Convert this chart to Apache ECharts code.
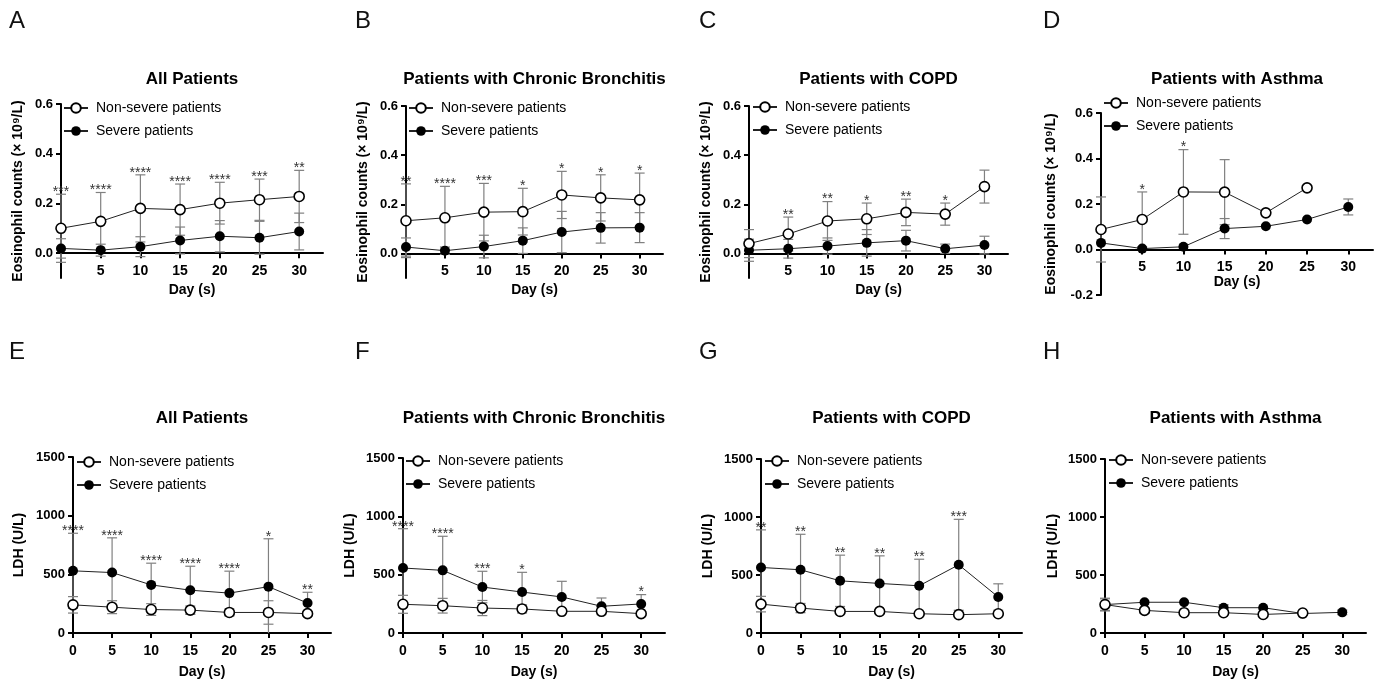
<!DOCTYPE html>
<html>
<head>
<meta charset="utf-8">
<script src="https://cdn.jsdelivr.net/npm/echarts@6/dist/echarts.min.js"></script>
<style>
  html, body { margin: 0; padding: 0; background: #fff; }
  #main { width: 1378px; height: 680px; }
</style>
</head>
<body>
<div id="main"></div>
<script>
// days on the x axis
var days = [0, 5, 10, 15, 20, 25, 30];

// Eosinophil counts (x10^9/L), mean and SD
var nsA = [0.100, 0.128, 0.180, 0.175, 0.201, 0.215, 0.228];
var nsA_sd = [0.137, 0.116, 0.135, 0.103, 0.084, 0.083, 0.105];
var svA = [0.019, 0.012, 0.026, 0.051, 0.068, 0.062, 0.087];
var svA_sd = [0.039, 0.024, 0.040, 0.054, 0.063, 0.066, 0.074];
var sigA = ['***', '****', '****', '****', '****', '***', '**'];

var nsB = [0.133, 0.145, 0.168, 0.170, 0.238, 0.226, 0.218];
var nsB_sd = [0.150, 0.128, 0.117, 0.095, 0.096, 0.094, 0.109];
var svB = [0.026, 0.011, 0.028, 0.052, 0.087, 0.104, 0.105];
var svB_sd = [0.037, 0.015, 0.046, 0.052, 0.084, 0.062, 0.061];
var sigB = ['**', '****', '***', '*', '*', '*', '*'];

var nsC = [0.040, 0.079, 0.132, 0.141, 0.167, 0.160, 0.272];
var nsC_sd = [0.057, 0.069, 0.079, 0.064, 0.054, 0.045, 0.067];
var svC = [0.013, 0.019, 0.030, 0.043, 0.052, 0.019, 0.034];
var svC_sd = [0.045, 0.038, 0.033, 0.054, 0.042, 0.019, 0.036];
var sigC = ['', '**', '**', '*', '**', '*', ''];

var nsD = [0.088, 0.132, 0.253, 0.252, 0.161, 0.271, null];
var nsD_sd = [0.143, 0.121, 0.186, 0.143, 0, 0, 0];
var svD = [0.029, 0.004, 0.012, 0.092, 0.102, 0.132, 0.187];
var svD_sd = [0, 0, 0, 0.044, 0, 0, 0.035];
var sigD = ['', '*', '*', '', '', '', ''];

// LDH (U/L), mean and SD
var nsE = [240, 220, 200, 195, 175, 175, 165];
var nsE_sd = [70, 55, 50, 35, 30, 100, 20];
var svE = [530, 515, 410, 365, 340, 395, 255];
var svE_sd = [320, 296, 185, 204, 187, 408, 92];
var sigE = ['****', '****', '****', '****', '****', '*', '**'];

var nsF = [246, 234, 214, 206, 186, 186, 166];
var nsF_sd = [77, 63, 65, 35, 20, 20, 15];
var svF = [557, 537, 394, 351, 309, 229, 249];
var svF_sd = [337, 292, 135, 169, 134, 71, 80];
var sigF = ['****', '****', '***', '*', '', '', '*'];

var nsG = [249, 215, 186, 186, 166, 158, 166];
var nsG_sd = [67, 40, 15, 15, 12, 12, 12];
var svG = [565, 545, 450, 427, 407, 588, 310];
var svG_sd = [324, 306, 221, 238, 229, 392, 114];
var sigG = ['**', '**', '**', '**', '**', '***', ''];

var nsH = [245, 195, 175, 175, 160, 172, null];
var nsH_sd = [55, 25, 0, 0, 0, 0, 0];
var svH = [245, 265, 265, 218, 218, 168, 178];
var svH_sd = [50, 0, 0, 25, 0, 0, 20];
var sigH = ['', '', '', '', '', '', ''];

var eosTicks = [0, 0.2, 0.4, 0.6];
var eosTicksD = [-0.2, 0, 0.2, 0.4, 0.6];
var ldhTicks = [0, 500, 1000, 1500];

var NS = 'Non-severe patients', SV = 'Severe patients';
var FONT = '"Liberation Sans", Arial, sans-serif';

// layout of each panel: grid [left, top, width, height], legend pos, gaps
var panels = [
  {letter: 'A', title: 'All Patients', ns: nsA, nsSd: nsA_sd, sv: svA, svSd: svA_sd, sig: sigA,
   g: [61, 104, 262, 174], yMin: -0.1, yMax: 0.6, ticks: eosTicks, top: true, lg: [63, 100], xGap: 30, yGap: 36},
  {letter: 'B', title: 'Patients with Chronic Bronchitis', ns: nsB, nsSd: nsB_sd, sv: svB, svSd: svB_sd, sig: sigB,
   g: [406, 106, 257, 172], yMin: -0.1, yMax: 0.6, ticks: eosTicks, top: true, lg: [408, 100], xGap: 30, yGap: 36},
  {letter: 'C', title: 'Patients with COPD', ns: nsC, nsSd: nsC_sd, sv: svC, svSd: svC_sd, sig: sigC,
   g: [749, 106, 259, 172], yMin: -0.1, yMax: 0.6, ticks: eosTicks, top: true, lg: [752, 99], xGap: 30, yGap: 36},
  {letter: 'D', title: 'Patients with Asthma', ns: nsD, nsSd: nsD_sd, sv: svD, svSd: svD_sd, sig: sigD,
   g: [1101, 113, 272, 182], yMin: -0.2, yMax: 0.6, ticks: eosTicksD, top: true, lg: [1103, 95], xGap: 24, yGap: 43},
  {letter: 'E', title: 'All Patients', ns: nsE, nsSd: nsE_sd, sv: svE, svSd: svE_sd, sig: sigE,
   g: [73, 457, 258, 176], yMin: 0, yMax: 1500, ticks: ldhTicks, top: false, lg: [76, 454], xGap: 32, yGap: 47},
  {letter: 'F', title: 'Patients with Chronic Bronchitis', ns: nsF, nsSd: nsF_sd, sv: svF, svSd: svF_sd, sig: sigF,
   g: [403, 458, 262, 175], yMin: 0, yMax: 1500, ticks: ldhTicks, top: false, lg: [405, 453], xGap: 32, yGap: 46},
  {letter: 'G', title: 'Patients with COPD', ns: nsG, nsSd: nsG_sd, sv: svG, svSd: svG_sd, sig: sigG,
   g: [761, 459, 261, 174], yMin: 0, yMax: 1500, ticks: ldhTicks, top: false, lg: [764, 453], xGap: 32, yGap: 46},
  {letter: 'H', title: 'Patients with Asthma', ns: nsH, nsSd: nsH_sd, sv: svH, svSd: svH_sd, sig: sigH,
   g: [1105, 459, 261, 174], yMin: 0, yMax: 1500, ticks: ldhTicks, top: false, lg: [1108, 452], xGap: 32, yGap: 45}
];

var option = {
  animation: false,
  textStyle: {fontFamily: FONT},
  grid: [], xAxis: [], yAxis: [], legend: [], series: [], graphic: []
};

panels.forEach(function (p, i) {
  option.grid.push({left: p.g[0], top: p.g[1], width: p.g[2], height: p.g[3]});

  // the x axis sits at y = 0: shift it up from the grid bottom by the scale distance
  var zeroShift = (0 - p.yMin) / (p.yMax - p.yMin) * p.g[3];

  option.xAxis.push({
    gridIndex: i, type: 'value', min: 0, max: 33, position: 'bottom', offset: -zeroShift,
    axisLine: {onZero: false, lineStyle: {color: '#000', width: 2}},
    axisTick: {customValues: days, length: 5, lineStyle: {color: '#000', width: 2}},
    axisLabel: {customValues: p.top ? days.slice(1) : days, margin: 11, color: '#000',
                fontWeight: 'bold', fontSize: 14, fontFamily: FONT},
    splitLine: {show: false},
    name: 'Day (s)', nameLocation: 'middle', nameGap: p.xGap,
    nameTextStyle: {color: '#000', fontWeight: 'bold', fontSize: 14, fontFamily: FONT}
  });

  option.yAxis.push({
    gridIndex: i, type: 'value', min: p.yMin, max: p.yMax,
    axisLine: {show: true, onZero: false, lineStyle: {color: '#000', width: 2}},
    axisTick: {show: true, customValues: p.ticks, length: 5, lineStyle: {color: '#000', width: 2}},
    axisLabel: {customValues: p.ticks, margin: 8, color: '#000', fontWeight: 'bold', fontSize: 13,
                fontFamily: FONT,
                formatter: function (v) { return p.top ? v.toFixed(1) : String(v); }},
    splitLine: {show: false},
    name: p.top ? 'Eosinophil counts (× 10⁹/L)' : 'LDH (U/L)',
    nameLocation: 'middle', nameGap: p.yGap,
    nameTextStyle: {color: '#000', fontWeight: 'bold', fontSize: 14, fontFamily: FONT}
  });

  option.legend.push({
    left: p.lg[0], top: p.lg[1], orient: 'vertical', padding: 0,
    itemWidth: 24, itemHeight: 12, itemGap: 7, selectedMode: false,
    data: [NS, SV],
    textStyle: {fontSize: 14, color: '#000', lineHeight: 16, fontFamily: FONT, padding: [0, 0, 0, 3]}
  });

  // error bars (mean ± SD), clipped at the axis minimum
  var errData = [];
  days.forEach(function (d, k) {
    if (p.ns[k] != null) errData.push([d, p.ns[k], p.nsSd[k]]);
    if (p.sv[k] != null) errData.push([d, p.sv[k], p.svSd[k]]);
  });
  option.series.push({
    type: 'custom', xAxisIndex: i, yAxisIndex: i, z: 1, silent: true,
    data: errData, encode: {x: 0, y: 1},
    renderItem: function (params, api) {
      var x = api.value(0), m = api.value(1), sd = api.value(2);
      if (!(sd > 0)) return null;
      var lo = Math.max(m - sd, p.yMin);
      var pt = api.coord([x, m + sd]), pb = api.coord([x, lo]);
      var st = {stroke: '#808080', lineWidth: 1.2};
      var kids = [
        {type: 'line', shape: {x1: pt[0], y1: pt[1], x2: pb[0], y2: pb[1]}, style: st},
        {type: 'line', shape: {x1: pt[0] - 5, y1: pt[1], x2: pt[0] + 5, y2: pt[1]}, style: st}
      ];
      if (m - sd > p.yMin) {
        kids.push({type: 'line', shape: {x1: pb[0] - 5, y1: pb[1], x2: pb[0] + 5, y2: pb[1]}, style: st});
      }
      return {type: 'group', children: kids};
    }
  });

  function lineData(arr) {
    return days.map(function (d, k) { return [d, arr[k] == null ? '-' : arr[k]]; });
  }

  option.series.push({
    name: SV, type: 'line', xAxisIndex: i, yAxisIndex: i, z: 3,
    data: lineData(p.sv), symbol: 'circle', symbolSize: 10,
    itemStyle: {color: '#000'}, lineStyle: {color: '#222', width: 1}
  });
  option.series.push({
    name: NS, type: 'line', xAxisIndex: i, yAxisIndex: i, z: 4,
    data: lineData(p.ns), symbol: 'circle', symbolSize: 10,
    itemStyle: {color: '#fff', borderColor: '#000', borderWidth: 1.6}, lineStyle: {color: '#222', width: 1}
  });

  // significance marks above the highest error bar
  var sigData = [];
  days.forEach(function (d, k) {
    if (!p.sig[k]) return;
    var t1 = p.ns[k] == null ? -Infinity : p.ns[k] + p.nsSd[k];
    var t2 = p.sv[k] == null ? -Infinity : p.sv[k] + p.svSd[k];
    sigData.push([d, Math.max(t1, t2), p.sig[k]]);
  });
  option.series.push({
    type: 'custom', xAxisIndex: i, yAxisIndex: i, z: 5, silent: true,
    data: sigData, encode: {x: 0, y: 1},
    renderItem: function (params, api) {
      var pt = api.coord([api.value(0), api.value(1)]);
      return {type: 'text', x: pt[0], y: pt[1] + 5,
              style: {text: sigData[params.dataIndex][2], fill: '#333', fontSize: 14,
                      fontFamily: FONT, align: 'center', verticalAlign: 'bottom'}};
    }
  });

  var cx = p.g[0] + p.g[2] / 2;
  option.graphic.push({
    type: 'text', x: cx, y: p.top ? 79 : 418,
    style: {text: p.title, fill: '#000', font: 'bold 17px ' + FONT, align: 'center', verticalAlign: 'middle'}
  });
  option.graphic.push({
    type: 'text', x: [9, 355, 699, 1043][i % 4], y: p.top ? 21 : 352,
    style: {text: p.letter, fill: '#111', font: '24px "Liberation Sans Narrow", sans-serif',
            align: 'left', verticalAlign: 'middle'}
  });
});

var myChart = echarts.init(document.getElementById('main'));
myChart.setOption(option);
</script>
</body>
</html>
